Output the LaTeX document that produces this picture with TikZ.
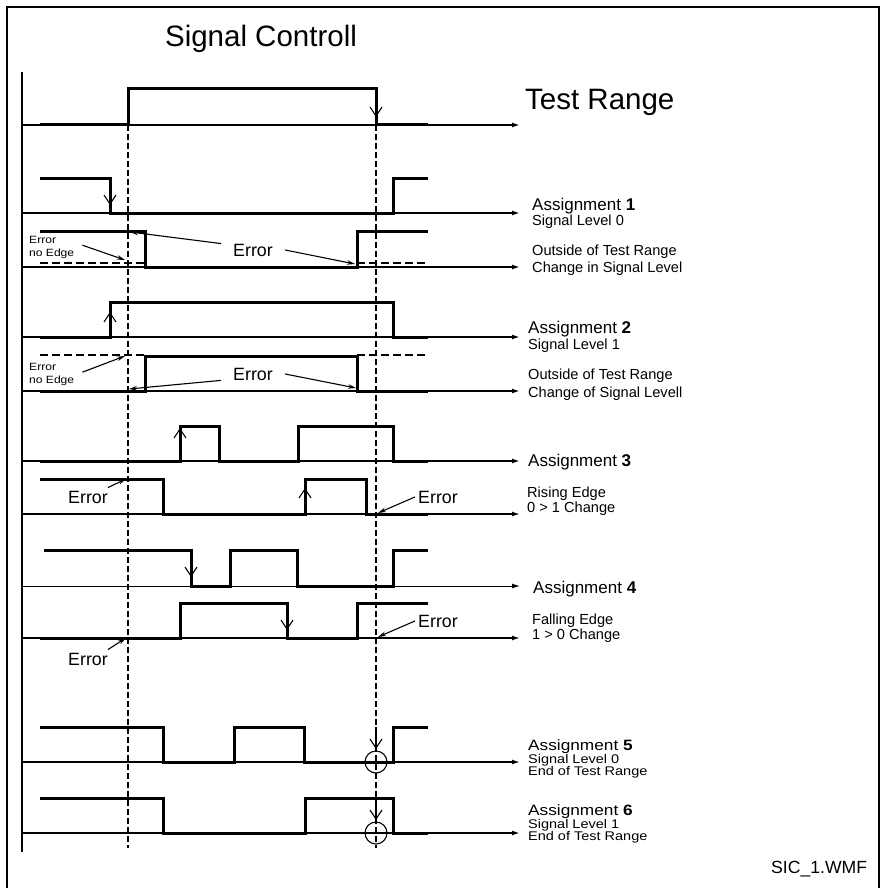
\documentclass[tikz,border=0pt]{standalone}
\usepackage{fontspec}
\setmainfont{Liberation Sans}
\newfontfamily\wideA[FakeStretch=1.15]{Liberation Sans}
\usetikzlibrary{arrows.meta}
\newcommand{\fsz}[1]{\fontsize{#1}{#1}\selectfont}

\begin{document}
\begin{tikzpicture}[x=1pt, y=-1pt,
  sig/.style={line width=3pt},
  taxis/.style={line width=1.6pt, -{Latex[length=8pt,width=5pt]}},
  guide/.style={line width=1.7pt, dash pattern=on 6pt off 3pt},
  ideal/.style={line width=1.7pt, dash pattern=on 8pt off 4pt},
  edgetip/.style={line width=1.1pt, -{Straight Barb[length=9pt,width=12pt]}},
  err/.style={line width=1.1pt, -{Stealth[length=8pt,width=4.5pt]}},
  txt/.style={inner sep=0pt, anchor=base west},
  bigtxt/.style={font=\fsz{29.5}},
  asgtxt/.style={font=\fsz{17}},
  notetxt/.style={font=\fsz{14.6}},
  endasg/.style={font=\wideA\fsz{15}},
  endtxt/.style={font=\wideA\fsz{12.6}},
  errtxt/.style={font=\fsz{17.8}},
  smalltxt/.style={font=\wideA\fsz{10.5}},
]
\useasboundingbox (0,0) rectangle (882,888);
% ---- frame and time axes ----
\draw[line width=2pt] (7,892) -- (7,7) -- (879,7) -- (879,892);
\draw[line width=2pt] (22,72) -- (22,852);
\foreach \y in {125,213,267,337,391,461,514,638,762,833}
  \draw[taxis] (22,\y) -- (520,\y);
\draw[taxis, line width=1pt] (22,586) -- (520,586);
% test range limits
\draw[guide] (128,125) -- (128,848);
\draw[guide] (376,125) -- (376,848);

% ---- signals ----
\draw[sig] (40,125) -| (128,89) -| (376,125) -- (428,125);
\draw[sig] (40,178) -| (110,213) -| (393,178) -- (428,178);
\draw[sig] (40,231) -| (145,267) -| (357,231) -- (428,231);
\draw[sig] (40,337) -| (110,302) -| (393,337) -- (428,337);
\draw[sig] (40,391) -| (145,356) -| (357,391) -- (428,391);
\draw[sig] (40,461) -| (180,426) -| (219,461) -| (298,426) -| (393,461) -- (428,461);
\draw[sig] (40,479) -| (163,514) -| (305,479) -| (366,514) -- (428,514);
\draw[sig] (44,550) -| (191,586) -| (230,550) -| (297,586) -| (393,550) -- (428,550);
\draw[sig] (40,638) -| (180,603) -| (287,638) -| (357,603) -- (428,603);
\draw[sig] (40,727) -| (163,762) -| (234,727) -| (304,762) -| (393,727) -- (428,727);
\draw[sig] (40,798) -| (163,833) -| (305,798) -| (393,833) -- (428,833);
% expected levels
\draw[ideal] (40,263) -- (145,263);
\draw[ideal] (357,263) -- (428,263);
\draw[ideal] (40,355) -- (145,355);
\draw[ideal] (357,355) -- (428,355);

% ---- edges ----
\draw[edgetip] (376,89) -- (376,117);
\draw[edgetip] (110,178) -- (110,205);
\draw[edgetip] (110,337) -- (110,312);
\draw[edgetip] (180,461) -- (180,428);
\draw[edgetip] (305,514) -- (305,488);
\draw[edgetip] (191,550) -- (191,577);
\draw[edgetip] (287,603) -- (287,630);
\draw[edgetip] (376,727) -- (376,749);
\draw[edgetip] (376,798) -- (376,820);
\draw[line width=1.1pt] (376,762) circle[radius=11];
\draw[line width=1.1pt] (376,833) circle[radius=11];

% ---- headings ----
\node[bigtxt, anchor=base] (title) at (261,47) {Signal Controll};
\node[bigtxt, txt] (trange) at (525,110) {Test Range};

% ---- right labels ----
\node[asgtxt, txt] (asg1) at (532,210) {Assignment \textbf{1}};
\node[notetxt, txt] (asg1b) at (532,225) {Signal Level 0};
\node[notetxt, txt] (out1a) at (532,255) {Outside of Test Range};
\node[notetxt, txt] (out1b) at (532,272) {Change in Signal Level};
\node[asgtxt, txt] (asg2) at (528,333) {Assignment \textbf{2}};
\node[notetxt, txt] (asg2b) at (528,349) {Signal Level 1};
\node[notetxt, txt] (out2a) at (528,379) {Outside of Test Range};
\node[notetxt, txt] (out2b) at (528,397) {Change of Signal Levell};
\node[asgtxt, txt] (asg3) at (528,466) {Assignment \textbf{3}};
\node[notetxt, txt] (rise3a) at (527,497) {Rising Edge};
\node[notetxt, txt] (rise3b) at (527,512) {0 > 1 Change};
\node[asgtxt, txt] (asg4) at (533,593) {Assignment \textbf{4}};
\node[notetxt, txt] (fall4a) at (532,624) {Falling Edge};
\node[notetxt, txt] (fall4b) at (532,639) {1 > 0 Change};
\node[endasg, txt] (asg5) at (528,750) {Assignment \textbf{5}};
\node[endtxt, txt] (asg5b) at (528,763) {Signal Level 0};
\node[endtxt, txt] (asg5c) at (528,775) {End of Test Range};
\node[endasg, txt] (asg6) at (528,815) {Assignment \textbf{6}};
\node[endtxt, txt] (asg6b) at (528,828) {Signal Level 1};
\node[endtxt, txt] (asg6c) at (528,840) {End of Test Range};
\node[font=\fsz{17.6}, txt] (fname) at (771,873) {SIC\_1.WMF};

% ---- error marks ----
\coordinate (tgt2a) at (125,260);
\coordinate (tgt2b) at (130,232);
\coordinate (tgt2c) at (355,264);
\coordinate (tgt4a) at (125,356);
\coordinate (tgt4b) at (129,389);
\coordinate (tgt4c) at (356,388);
\coordinate (tgt6a) at (126,479);
\coordinate (tgt6b) at (378,513);
\coordinate (tgt8a) at (378,637);
\coordinate (tgt8b) at (126,638);

\node[smalltxt, txt] (noedge2a) at (29,243) {Error};
\node[smalltxt, txt, inner xsep=8pt, inner ysep=3pt] (noedge2b) at (21,256) {no Edge};
\node[errtxt, txt, inner xsep=12pt] (err2) at (221,256) {Error};
\draw[err] (noedge2b.north east) -- (tgt2a);
\draw[err] (err2.north west) -- (tgt2b);
\draw[err] (err2.east) -- (tgt2c);

\node[smalltxt, txt] (noedge4a) at (29,370) {Error};
\node[smalltxt, txt, inner xsep=8pt, inner ysep=3pt] (noedge4b) at (21,383) {no Edge};
\node[errtxt, txt, inner xsep=12pt] (err4) at (221,380) {Error};
\draw[err] (noedge4b.north east) -- (tgt4a);
\draw[err] (err4.south west) -- (tgt4b);
\draw[err] (err4.east) -- (tgt4c);

\node[errtxt, txt, inner ysep=3pt] (err6a) at (68,503) {Error};
\node[errtxt, txt, inner xsep=3pt] (err6b) at (415,503) {Error};
\draw[err] (err6a.north east) -- (tgt6a);
\draw[err] (err6b.west) -- (tgt6b);

\node[errtxt, txt, inner xsep=3pt] (err8a) at (415,627) {Error};
\node[errtxt, txt, inner ysep=3pt] (err8b) at (68,665) {Error};
\draw[err] (err8a.west) -- (tgt8a);
\draw[err] (err8b.north east) -- (tgt8b);
\end{tikzpicture}
\end{document}
